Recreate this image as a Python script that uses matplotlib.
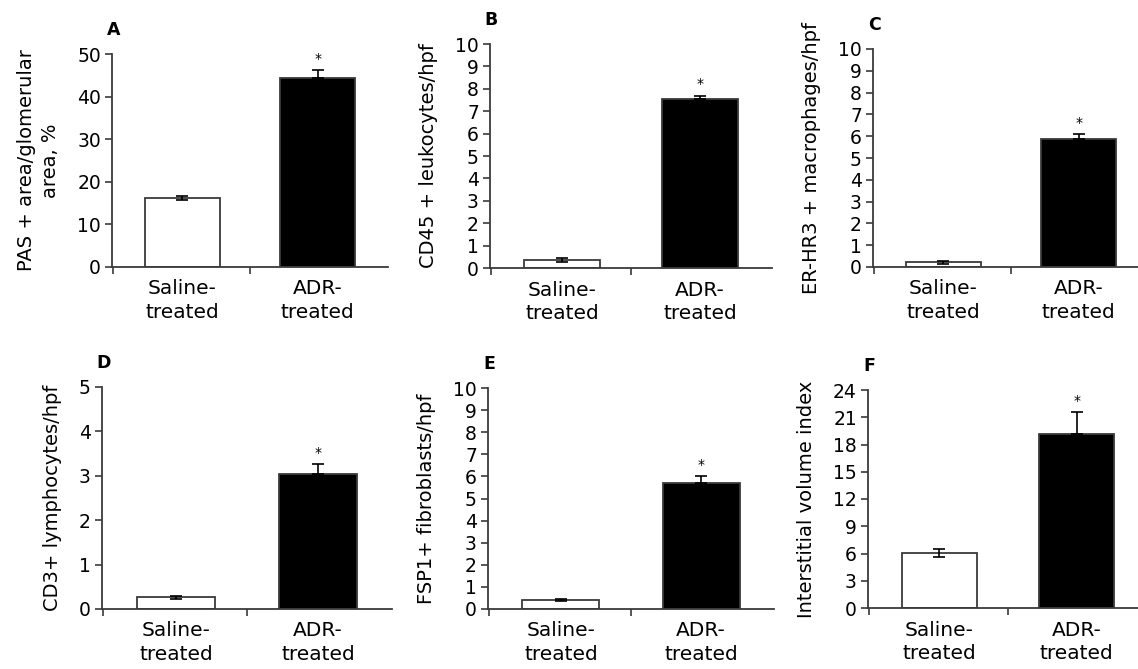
import matplotlib
matplotlib.use("Agg")
import matplotlib.pyplot as plt

plt.rcParams['font.family'] = ['DejaVu Sans']

groups = ["Saline-\ntreated", "ADR-\ntreated"]
letters = ["A", "B", "C", "D", "E", "F"]
ylabels = [
    "PAS + area/glomerular\narea, %",
    "CD45 + leukocytes/hpf",
    "ER-HR3 + macrophages/hpf",
    "CD3+ lymphocytes/hpf",
    "FSP1+ fibroblasts/hpf",
    "Interstitial volume index",
]
ymax = [50, 10, 10, 5, 10, 24]
ystep = [10, 1, 1, 1, 1, 3]
saline_mean = [16.2, 0.35, 0.22, 0.26, 0.40, 6.1]
saline_err = [0.4, 0.08, 0.07, 0.03, 0.06, 0.45]
adr_mean = [44.3, 7.55, 5.87, 3.05, 5.72, 19.2]
adr_err = [2.0, 0.15, 0.22, 0.22, 0.28, 2.4]

W, H = 1138, 669
# axes boxes in pixels: left, right, top, bottom
boxes = [
    (112, 388, 54, 267),
    (490, 772, 44, 268),
    (873, 1149, 49, 267),
    (102, 392, 387, 609),
    (488, 774, 388, 609),
    (868, 1148, 390, 608),
]

fig = plt.figure(figsize=(W / 100, H / 100), dpi=100)
edge = "#3a3a3a"
x0, x1 = -0.52, 1.52

for i in range(6):
    l, r, t, b = boxes[i]
    ax = fig.add_axes([l / W, 1 - b / H, (r - l) / W, (b - t) / H])
    ax.bar(0, saline_mean[i], width=0.55, color="white", edgecolor=edge, linewidth=1.3)
    ax.bar(1, adr_mean[i], width=0.55, color="black", edgecolor=edge, linewidth=1.3)
    ax.errorbar(0, saline_mean[i], yerr=saline_err[i], color="black", capsize=4, elinewidth=1.2, capthick=1.2)
    ax.errorbar(1, adr_mean[i], yerr=[[0], [adr_err[i]]], color="black", capsize=4, elinewidth=1.2, capthick=1.2)
    ax.annotate("*", (1, adr_mean[i] + adr_err[i]), xytext=(0, 3), textcoords="offset points",
                ha="center", va="bottom", fontsize=10)

    ax.set_xlim(x0, x1)
    ax.set_ylim(0, ymax[i])
    ticks = list(range(0, ymax[i] + 1, ystep[i]))
    ax.set_yticks(ticks)
    ax.set_xticks([0, 1])
    ax.set_xticklabels(groups, fontsize=14.5, linespacing=1.3)
    ax.set_xticks([x0 + 0.005, 0.5], minor=True)
    ax.tick_params(axis="x", which="major", length=0, pad=9)
    ax.tick_params(axis="x", which="minor", length=5, width=1.2, color=edge, direction="out")
    ax.tick_params(axis="y", length=5, width=1.2, color=edge, labelsize=13.5, pad=3)
    ax.set_ylabel(ylabels[i], fontsize=14, linespacing=1.35, labelpad=12)

    for s in ["top", "right"]:
        ax.spines[s].set_visible(False)
    for s in ["left", "bottom"]:
        ax.spines[s].set_color(edge)
        ax.spines[s].set_linewidth(1.3)

    ax.annotate(letters[i], (0, 1), xycoords="axes fraction", xytext=(1, 11),
                textcoords="offset points", fontsize=12.5, fontweight="bold",
                ha="center", va="bottom")

fig.savefig("out.png", dpi=100)
